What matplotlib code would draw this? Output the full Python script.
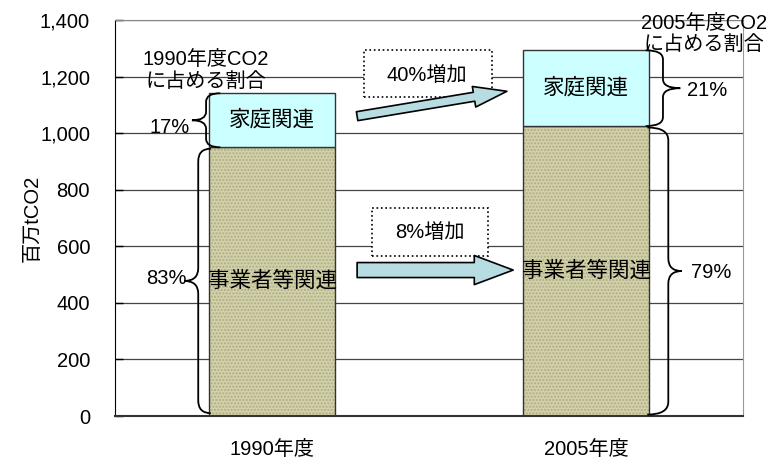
import numpy as np
import matplotlib
matplotlib.use("Agg")
import matplotlib.pyplot as plt
from matplotlib.path import Path
from matplotlib.patches import PathPatch, Rectangle
from matplotlib.ticker import StrMethodFormatter

plt.rcParams['font.family'] = ['Liberation Sans', 'Noto Sans CJK JP']

# datos
years = ['1990年度', '2005年度']
business = [950, 1025]      # 事業者等関連
household = [191, 268]      # 家庭関連
share_household = ['17%', '21%']
share_business = ['83%', '79%']
increase_labels = ['40%増加', '8%増加']
share_titles = ['1990年度CO2\nに占める割合', '2005年度CO2\nに占める割合']

c_house = '#ccffff'
c_bus = '#d3d1a9'
c_arrow = '#b7dde3'
w = 0.4
fs = 14.5


def brace(ax, xe, xv, xt, y0, y1, r):
    # llave: extremos en xe, vertical en xv, punta en xt
    ym = (y0 + y1) / 2
    verts = [(xe, y1), (xv, y1), (xv, y1 - r),
             (xv, ym + r), (xv, ym), (xt, ym),
             (xv, ym), (xv, ym - r),
             (xv, y0 + r), (xv, y0), (xe, y0)]
    codes = [Path.MOVETO, Path.CURVE3, Path.CURVE3,
             Path.LINETO, Path.CURVE3, Path.CURVE3,
             Path.CURVE3, Path.CURVE3,
             Path.LINETO, Path.CURVE3, Path.CURVE3]
    ax.add_patch(PathPatch(Path(verts, codes), fill=False, lw=1.3,
                           ec='black', zorder=5, clip_on=False))


fig = plt.figure(figsize=(7.74, 4.58), dpi=100)
ax = fig.add_axes([0.1486, 0.0917, 0.8114, 0.8646])

x = np.arange(len(years))

# barras
ax.bar(x, business, w, color=c_bus, hatch='.....', edgecolor='#aeac86', lw=0, zorder=2)
ax.bar(x, business, w, fill=False, edgecolor='#333333', lw=1, zorder=3)
ax.bar(x, household, w, bottom=business, color=c_house, edgecolor='#333333', lw=1, zorder=3)

total = [b + h for b, h in zip(business, household)]
for i in range(len(years)):
    ax.text(x[i], business[i] + household[i] / 2, '家庭関連', ha='center', va='center',
            fontsize=15.5, zorder=6)
    ax.text(x[i], business[i] / 2, '事業者等関連', ha='center', va='center',
            fontsize=15.5, zorder=6)

# llaves 1990 (a la izquierda)
e0 = x[0] - w / 2
brace(ax, e0 + 0.035, e0 - 0.01, e0 - 0.055, business[0], total[0], 30)
brace(ax, e0 + 0.005, e0 - 0.035, e0 - 0.08, 10, business[0] - 5, 45)
ax.text(e0 - 0.063, 1020, share_household[0], ha='right', va='center', fontsize=fs)
ax.text(e0 - 0.072, 486, share_business[0], ha='right', va='center', fontsize=fs)

# llaves 2005 (a la derecha)
e1 = x[1] + w / 2
brace(ax, e1 - 0.01, e1 + 0.045, e1 + 0.1, business[1], total[1], 32)
brace(ax, e1 - 0.005, e1 + 0.062, e1 + 0.105, 5, business[1] - 5, 45)
ax.text(e1 + 0.122, 1152, share_household[1], ha='left', va='center', fontsize=fs)
ax.text(e1 + 0.135, 509, share_business[1], ha='left', va='center', fontsize=fs)

# textos de participacion
ax.text(x[0] - 0.21, 1223, share_titles[0], ha='center', va='center',
        fontsize=fs, linespacing=1.2, zorder=6)
ax.text(x[1] + 0.376, 1350, share_titles[1], ha='center', va='center',
        fontsize=fs, linespacing=1.15, zorder=6, clip_on=False)

# cajas de incremento
ax.add_patch(Rectangle((0.293, 1128), 0.408, 166, fc='white', ec='black',
                       ls=':', lw=1.2, zorder=4))
ax.text(0.494, 1204, increase_labels[0], ha='center', va='center', fontsize=fs, zorder=6)
ax.add_patch(Rectangle((0.318, 566), 0.37, 169, fc='white', ec='black',
                       ls=':', lw=1.2, zorder=4))
ax.text(0.503, 648, increase_labels[1], ha='center', va='center', fontsize=fs, zorder=6)

# flechas
ax.annotate('', xy=(0.748, 1148), xytext=(0.271, 1060),
            arrowprops=dict(arrowstyle='simple,head_length=24,head_width=15,tail_width=6.5',
                            mutation_scale=1, fc=c_arrow, ec='black', lw=1.2,
                            shrinkA=0, shrinkB=0), zorder=5)
ax.annotate('', xy=(0.768, 516), xytext=(0.271, 516),
            arrowprops=dict(arrowstyle='simple,head_length=28,head_width=21,tail_width=10.8',
                            mutation_scale=1, fc=c_arrow, ec='black', lw=1.2,
                            shrinkA=0, shrinkB=0), zorder=5)

# ejes
ax.set_xlim(-0.5, 1.5)
ax.set_ylim(0, 1400)
ax.set_yticks(range(0, 1401, 200))
ax.yaxis.set_major_formatter(StrMethodFormatter('{x:,.0f}'))
ax.set_xticks(x)
ax.set_xticklabels(years, fontsize=fs)
ax.tick_params(axis='x', length=0, pad=17)
ax.tick_params(axis='y', direction='in', length=6, width=1, pad=18, labelsize=fs)
ax.yaxis.grid(True, color='#444444', lw=0.9, zorder=0)
ax.set_axisbelow(True)
ax.set_ylabel('百万tCO2', fontsize=fs, labelpad=-1)
ax.spines['left'].set_color('black')
ax.spines['bottom'].set_color('#333333')
ax.spines['bottom'].set_linewidth(1.5)
ax.spines['right'].set_color('#999999')
ax.spines['top'].set_color('#888888')

plt.savefig('out.png', dpi=100)
